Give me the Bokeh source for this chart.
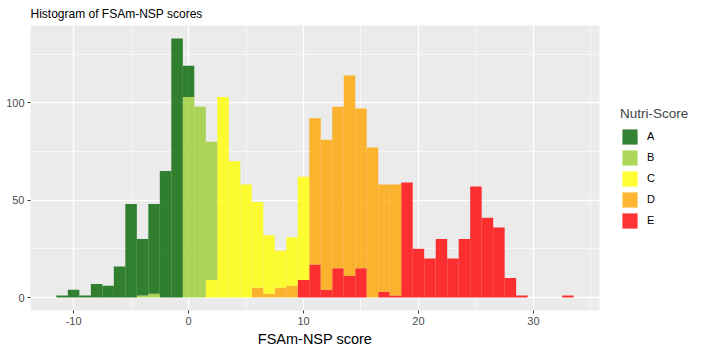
from bokeh.plotting import figure
from bokeh.models import (Range1d, SingleIntervalTicker, Legend, LegendItem,
                          ColumnDataSource, PrintfTickFormatter)
from bokeh.embed import file_html
from bokeh.resources import INLINE

# ---- data: per-grade counts in 1-point bins (bin centres) ----
grades = ["A", "B", "C", "D", "E"]
grade_colors = ["darkgreen", "yellowgreen", "yellow", "orange", "red"]

a_bins = [-11, -10, -9, -8, -7, -6, -5, -4, -3, -2, -1, 0]
a_counts = [1, 4, 1, 7, 6, 16, 48, 29, 46, 65, 133, 16]
b_bins = [-4, -3, 0, 1, 2]
b_counts = [1, 2, 103, 98, 71]
c_bins = [2, 3, 4, 5, 6, 7, 8, 9, 10]
c_counts = [9, 103, 70, 58, 44, 30, 19, 25, 53]
d_bins = [6, 7, 8, 9, 11, 12, 13, 14, 15, 16, 17, 18]
d_counts = [5, 2, 5, 6, 75, 77, 83, 103, 82, 77, 55, 57]
e_bins = [10, 11, 12, 13, 14, 15, 17, 18, 19, 20, 21, 22, 23, 24, 25, 26, 27, 28, 29, 33]
e_counts = [9, 17, 4, 15, 11, 15, 3, 1, 59, 25, 20, 30, 20, 30, 57, 41, 36, 10, 1, 1]

x_ticks_interval = 10
y_ticks_interval = 50

series = [(a_bins, a_counts), (b_bins, b_counts), (c_bins, c_counts),
          (d_bins, d_counts), (e_bins, e_counts)]

# stacked like ggplot: last level (E) at the bottom, A on top
binw = 1.0
stack = {}
stacked = [None] * len(series)
for i in reversed(range(len(series))):
    bins, counts = series[i]
    bottoms, tops = [], []
    for b, c in zip(bins, counts):
        base = stack.get(b, 0)
        bottoms.append(base)
        tops.append(base + c)
        stack[b] = base + c
    stacked[i] = dict(x=bins, bottom=bottoms, top=tops)

lo, hi = min(stack) - binw / 2, max(stack) + binw / 2
w = hi - lo
ymax = max(stack.values())

FONT = "Liberation Sans"

p = figure(frame_width=569, frame_height=285, output_backend="svg", toolbar_location=None,
           x_range=Range1d(lo - 0.05 * w, hi + 0.05 * w),
           y_range=Range1d(-0.05 * ymax, 1.05 * ymax),
           min_border_left=30, min_border_right=102, min_border_top=25, min_border_bottom=41,
           background_fill_color="#EBEBEB", border_fill_color="white",
           outline_line_color=None)

p.title.text = "Histogram of FSAm-NSP scores"
p.title.text_font = FONT
p.title.text_font_size = "12px"
p.title.text_font_style = "normal"
p.title.text_color = "black"
p.title.text_line_height = 1.0
p.title.align = "left"
p.title.standoff = 9

renderers = [None] * len(series)
for i in reversed(range(len(series))):
    src = ColumnDataSource(stacked[i])
    renderers[i] = p.vbar(x="x", top="top", bottom="bottom", width=binw, source=src,
                          fill_color=grade_colors[i], fill_alpha=0.8, line_color=None)

p.xaxis.ticker = SingleIntervalTicker(interval=x_ticks_interval, num_minor_ticks=2)
p.yaxis.ticker = SingleIntervalTicker(interval=y_ticks_interval, num_minor_ticks=2)
for ax in (p.xaxis, p.yaxis):
    ax.formatter = PrintfTickFormatter(format="%d")
    ax.axis_line_color = None
    ax.major_tick_line_color = "#333333"
    ax.major_tick_out = 3
    ax.major_tick_in = 0
    ax.minor_tick_line_color = None
    ax.major_label_text_color = "#4D4D4D"
    ax.major_label_text_font = FONT
    ax.major_label_text_font_size = "11px"
    ax.major_label_standoff = 2

p.xaxis.axis_label = "FSAm-NSP score"
p.xaxis.axis_label_text_font = FONT
p.xaxis.axis_label_text_font_size = "14.5px"
p.xaxis.axis_label_text_font_style = "normal"
p.xaxis.axis_label_text_color = "black"
p.xaxis.axis_label_standoff = 3

for g in (p.xgrid, p.ygrid):
    g.grid_line_color = "white"
    g.grid_line_width = 1.3
    g.minor_grid_line_color = "white"
    g.minor_grid_line_width = 0.6

legend = Legend(items=[LegendItem(label=g, renderers=[r]) for g, r in zip(grades, renderers)],
                title="Nutri-Score", location="center_left", orientation="vertical",
                glyph_width=19, glyph_height=19, label_height=19, label_standoff=8,
                spacing=2, padding=0, margin=21,
                border_line_color=None, background_fill_alpha=0,
                title_text_font=FONT, title_text_font_size="13.5px", title_text_font_style="normal",
                title_standoff=6,
                label_text_font=FONT, label_text_font_size="11px", label_text_color="black")
p.add_layout(legend, "right")

open("out.html", "w").write(file_html(p, INLINE))
